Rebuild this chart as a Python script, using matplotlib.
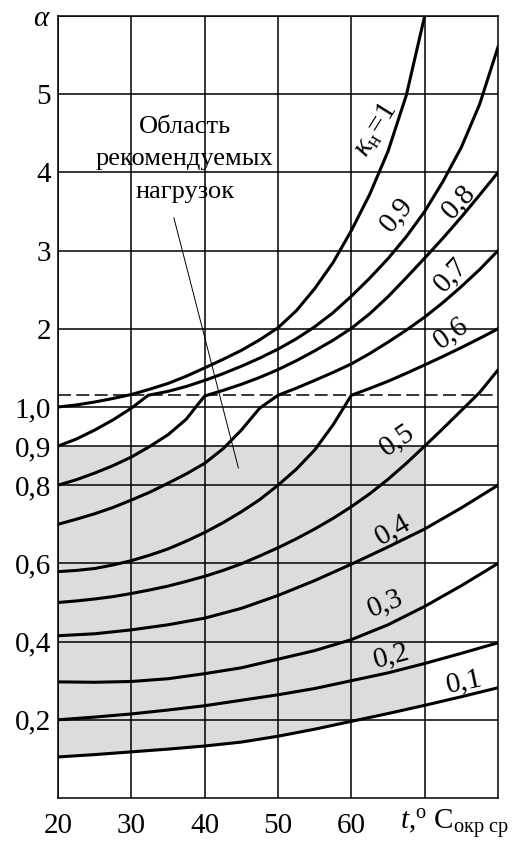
import numpy as np
import matplotlib
matplotlib.use('Agg')
import matplotlib.pyplot as plt
import matplotlib.transforms as mtransforms

plt.rcParams['font.family'] = ['Liberation Serif', 'DejaVu Serif']
plt.rcParams['mathtext.fontset'] = 'custom'
plt.rcParams['mathtext.rm'] = 'Liberation Serif'
plt.rcParams['mathtext.it'] = 'Liberation Serif:italic'
plt.rcParams['mathtext.bf'] = 'Liberation Serif:bold'

# температура окружающей среды
t_std = [20, 25, 30, 35, 40, 45, 50, 55, 60, 65, 70, 75, 80]

# кривые alpha(t) для k_н = 0.1 ... 0.4
a_01 = [0.105, 0.111, 0.118, 0.125, 0.133, 0.143, 0.158, 0.176, 0.196, 0.216, 0.237, 0.259, 0.282]
a_02 = [0.200, 0.207, 0.215, 0.225, 0.236, 0.250, 0.264, 0.280, 0.300, 0.320, 0.344, 0.370, 0.397]
a_03 = [0.297, 0.296, 0.298, 0.305, 0.318, 0.333, 0.355, 0.377, 0.405, 0.443, 0.490, 0.543, 0.600]
a_04 = [0.415, 0.420, 0.430, 0.443, 0.460, 0.485, 0.518, 0.556, 0.598, 0.642, 0.688, 0.742, 0.800]

# k_н = 0.5
t_05 = [20, 22.5, 25, 27.5, 30, 32.5, 35, 37.5, 40, 42.5, 45, 47.5, 50,
        52.5, 55, 57.5, 60, 62.5, 65, 67.5, 70, 72.5, 75, 77.5, 80]
a_05 = [0.500, 0.504, 0.509, 0.515, 0.523, 0.532, 0.542, 0.554, 0.567, 0.582, 0.599, 0.619, 0.640,
        0.663, 0.688, 0.715, 0.745, 0.778, 0.815, 0.856, 0.900, 0.945, 0.991, 1.186, 1.474]

# k_н = 0.6 (излом на пунктире при t = 60)
t_06 = [20, 22.5, 25, 27.5, 30, 32.5, 35, 37.5, 40, 42.5, 45, 47.5, 50, 52.5, 55, 57.5,
        60, 62.5, 65, 67.5, 70, 72.5, 75, 77.5, 80]
a_06 = [0.579, 0.582, 0.587, 0.596, 0.607, 0.621, 0.637, 0.657, 0.679, 0.704, 0.732, 0.763,
        0.800, 0.841, 0.890, 0.954,
        1.150, 1.237, 1.329, 1.431, 1.538, 1.647, 1.760, 1.878, 2.000]

# k_н = 0.7 (излом при t = 50)
t_07 = [20, 22.5, 25, 27.5, 30, 32.5, 35, 37.5, 40, 42.5, 45, 47.5,
        50, 52.5, 55, 57.5, 60, 62.5, 65, 67.5, 70, 72.5, 75, 77.5, 80]
a_07 = [0.700, 0.713, 0.727, 0.743, 0.762, 0.782, 0.805, 0.829, 0.856, 0.893, 0.941, 0.997,
        1.150, 1.241, 1.340, 1.442, 1.551, 1.683, 1.829, 1.983, 2.150, 2.336, 2.540, 2.758, 3.000]

# k_н = 0.8 (излом при t = 40)
t_08 = [20, 22.5, 25, 27.5, 30, 32.5, 35, 37.5, 38.8,
        40, 42.5, 45, 47.5, 50, 52.5, 55, 57.5, 60, 62.5, 65, 67.5, 70, 72.5, 75, 77.5, 80]
a_08 = [0.800, 0.814, 0.831, 0.850, 0.872, 0.899, 0.929, 0.969, 1.000,
        1.141, 1.212, 1.290, 1.378, 1.478, 1.592, 1.718, 1.853, 2.006, 2.192, 2.410, 2.654,
        2.904, 3.160, 3.429, 3.712, 4.000]

# k_н = 0.9 (излом при t = 32.3)
t_09 = [20, 22.5, 25, 27.5, 30, 32.3, 35, 37.5, 40, 42.5, 45, 47.5, 50, 52.5, 55,
        57.5, 60, 62.5, 65, 67.5, 70, 72.5, 75, 77.5, 80]
a_09 = [0.900, 0.918, 0.941, 0.967, 0.997, 1.150, 1.200, 1.263, 1.340, 1.426, 1.521, 1.625,
        1.740, 1.872, 2.026, 2.205, 2.417, 2.647, 2.897, 3.179, 3.500, 3.885, 4.321, 4.872, 5.603]

# k_н = 1
t_10 = [20, 22.5, 25, 27.5, 30, 32.5, 35, 37.5, 40, 42.5, 45, 47.5, 50, 52.5, 55,
        57.5, 60, 62.5, 65, 67.5, 70]
a_10 = [1.000, 1.026, 1.064, 1.109, 1.160, 1.227, 1.301, 1.394, 1.500, 1.609, 1.724, 1.859,
        2.013, 2.231, 2.513, 2.846, 3.256, 3.718, 4.269, 4.987, 6.000]

alpha_dash = 1.15

y_ticks = [0.2, 0.4, 0.6, 0.8, 0.9, 1.0, 2, 3, 4, 5, 6]
y_labels = ['0,2', '0,4', '0,6', '0,8', '0,9', '1,0', '2', '3', '4', '5', r'$\alpha$']
x_ticks = [20, 30, 40, 50, 60, 70]
x_labels = ['20', '30', '40', '50', '60', '']

# подписи кривых: текст, t, alpha, угол
curve_labels = [
    ('0,1', 75.4, 0.297, 12),
    ('0,2', 65.4, 0.364, 15),
    ('0,3', 64.6, 0.497, 22),
    ('0,4', 65.6, 0.685, 30),
    ('0,5', 66.3, 0.915, 35),
    ('0,6', 73.6, 1.95, 35),
    ('0,7', 73.5, 2.69, 47),
    ('0,8', 74.7, 3.63, 47),
    ('0,9', 66.2, 3.46, 50),
]


def fwd(a):
    a = np.asarray(a, dtype=float)
    return np.where(a <= 1, a, 1 + (a - 1) / 5)


def inv(y):
    y = np.asarray(y, dtype=float)
    return np.where(y <= 1, y, 1 + (y - 1) * 5)


fig = plt.figure(figsize=(5.16, 8.48), dpi=100)
ax = fig.add_axes([58 / 516, 50 / 848, 440 / 516, 782 / 848])
ax.set_yscale('function', functions=(fwd, inv))
ax.set_xlim(20, 80)
ax.set_ylim(0, 6)

# область рекомендуемых нагрузок
n_fill = t_std.index(70) + 1
ax.fill_between(t_std[:n_fill], a_01[:n_fill], 0.9, color='#dcdcdc', lw=0, zorder=0.5)

ax.set_xticks(x_ticks)
ax.set_xticklabels(x_labels)
ax.set_yticks(y_ticks)
ax.set_yticklabels(y_labels)
ax.minorticks_off()
ax.tick_params(axis='both', length=0, labelsize=21)
ax.tick_params(axis='x', pad=11)
ax.tick_params(axis='y', pad=5)
ax.grid(True, color='black', lw=1.1)
for s in ax.spines.values():
    s.set_linewidth(1.1)

ax.axhline(alpha_dash, color='black', lw=1.1, dashes=(8.5, 3.5), zorder=1.8)

curves = [(t_std, a_01), (t_std, a_02), (t_std, a_03), (t_std, a_04),
          (t_05, a_05), (t_06, a_06), (t_07, a_07), (t_08, a_08),
          (t_09, a_09), (t_10, a_10)]
for t, a in curves:
    ax.plot(t, a, color='black', lw=2.2, zorder=3, solid_joinstyle='round')

for txt, t, a, rot in curve_labels:
    ax.text(t, a, txt, rotation=rot, ha='center', va='center',
            rotation_mode='anchor', fontsize=21)

ax.text(63.4, 4.54, r'$\kappa_{\mathrm{н}}\!=\!\mathit{1}$', rotation=58,
        ha='center', va='center', rotation_mode='anchor', fontsize=21)

ax.text(37.3, 4.17, 'Область\nрекомендуемых\nнагрузок', ha='center', va='center',
        fontsize=19, linespacing=1.62)
ax.plot([35.8, 44.6], [3.42, 0.844], color='black', lw=0.7)

trans = mtransforms.blended_transform_factory(ax.transData, ax.transAxes)
ax.text(66.6, -0.041, r'$t$,$^{\mathrm{o}}$ C$_{\mathrm{окр\ ср}}$', transform=trans,
        ha='left', va='baseline', fontsize=21)

fig.savefig('out.png', dpi=100)
